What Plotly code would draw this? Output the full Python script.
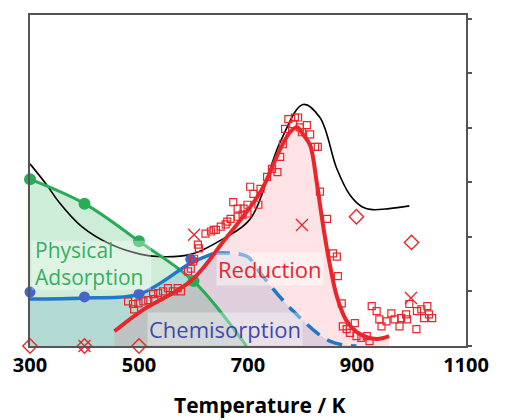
import plotly.graph_objects as go

# ---- data ----
black_T = [300, 331, 353, 395, 449, 504, 535, 595, 655, 704, 759, 801, 832, 863, 887, 910, 928, 959, 996]
black_y = [3.34, 2.95, 2.64, 2.19, 1.86, 1.68, 1.64, 1.68, 1.97, 2.33, 3.74, 4.43, 4.19, 3.25, 2.77, 2.55, 2.50, 2.52, 2.57]

phys_T = [300, 400, 500, 600, 697]
phys_y = [3.06, 2.61, 1.92, 1.19, 0.0]
phys_mk_T = [300, 400, 500, 600]
phys_mk_y = [3.06, 2.61, 1.92, 1.19]

chem_T = [300, 400, 500, 595, 637]
chem_y = [0.86, 0.88, 0.95, 1.52, 1.70]
chem_dash_T = [637, 668, 699, 723, 783, 850, 899]
chem_dash_y = [1.70, 1.70, 1.64, 1.33, 0.64, 0.09, 0.0]
chem_mk_T = [300, 400, 500, 595]
chem_mk_y = [0.99, 0.90, 0.95, 1.59]

red_T = [455, 504, 595, 655, 723, 759, 777, 790, 801, 814, 826, 834, 841, 850, 863, 881, 905, 936, 959]
red_y = [0.27, 0.64, 1.19, 1.92, 2.83, 3.61, 3.92, 4.01, 3.88, 3.68, 3.01, 2.46, 2.01, 1.50, 0.91, 0.46, 0.22, 0.13, 0.18]

sq_T = [480, 489, 491, 499, 508, 517, 526, 528, 535, 544, 553, 562, 571, 577,
        590, 595, 599, 601, 610, 608, 622, 632, 641, 650, 659, 662, 668, 681, 690, 699,
        637, 673, 681, 692, 699, 704, 710, 719, 723, 735, 744, 754, 759, 764, 768, 774,
        783, 786, 792, 795, 799, 808, 814, 823, 828, 832, 845,
        856, 863, 865, 872, 874, 881, 887, 896, 899, 908, 918, 923,
        927, 936, 941, 945, 954, 963, 969, 978, 981, 990, 992, 996, 1009, 1010, 1018, 1023, 1029, 1032, 1038]
sq_y = [0.82, 0.77, 0.67, 0.78, 0.82, 0.84, 0.95, 0.86, 0.97, 1.00, 1.06, 1.00, 1.06, 1.00,
        1.37, 1.42, 1.55, 1.60, 1.79, 1.86, 2.06, 2.10, 2.13, 2.19, 2.23, 2.28, 2.33, 2.37, 2.41, 2.43,
        2.13, 2.64, 2.52, 2.52, 2.59, 2.92, 2.79, 2.59, 2.88, 3.10, 3.25, 3.19, 3.47, 3.70, 3.98, 4.16,
        4.07, 4.19, 4.19, 4.01, 3.92, 4.05, 3.88, 3.65, 3.65, 2.83, 2.33,
        1.70, 1.64, 1.28, 0.78, 0.36, 0.31, 0.24, 0.42, 0.18, 0.15, 0.18, 0.09,
        0.73, 0.64, 0.49, 0.36, 0.45, 0.60, 0.49, 0.36, 0.51, 0.58, 0.49, 0.77, 0.31, 0.64, 0.67, 0.51, 0.73, 0.58, 0.51]

x_T = [601, 799, 999, 400]
x_y = [2.04, 2.22, 0.88, 0.0]

dia_T = [300, 400, 500, 899, 1000]
dia_y = [0.0, 0.0, 0.0, 2.37, 1.90]

x_ticks = [300, 500, 700, 900, 1100]
y_ticks = [0, 1, 2, 3, 4, 5, 6]

RED = "#e8262b"
GREEN = "#27ad55"
BLUE = "#1f78c8"
BLUE_MK = "#4466c8"

fig = go.Figure()

# fills
fig.add_trace(go.Scatter(x=phys_T, y=phys_y, mode="lines", line=dict(width=0, shape="spline"),
                         fill="tozeroy", fillcolor="rgba(31,173,79,0.22)", hoverinfo="skip"))
fig.add_trace(go.Scatter(x=chem_T + chem_dash_T[1:], y=chem_y + chem_dash_y[1:], mode="lines",
                         line=dict(width=0, shape="spline"),
                         fill="tozeroy", fillcolor="rgba(60,130,200,0.18)", hoverinfo="skip"))
fig.add_trace(go.Scatter(x=red_T, y=red_y, mode="lines", line=dict(width=0, shape="spline"),
                         fill="tozeroy", fillcolor="rgba(240,80,100,0.16)", hoverinfo="skip"))

# black curve
fig.add_trace(go.Scatter(x=black_T, y=black_y, mode="lines",
                         line=dict(color="black", width=1.6, shape="spline")))

# green
fig.add_trace(go.Scatter(x=phys_T, y=phys_y, mode="lines",
                         line=dict(color=GREEN, width=3, shape="spline")))
fig.add_trace(go.Scatter(x=phys_mk_T, y=phys_mk_y, mode="markers",
                         marker=dict(color=GREEN, size=12), cliponaxis=False))

# blue
fig.add_trace(go.Scatter(x=chem_T, y=chem_y, mode="lines",
                         line=dict(color=BLUE, width=3.5, shape="spline")))
fig.add_trace(go.Scatter(x=chem_dash_T, y=chem_dash_y, mode="lines",
                         line=dict(color=BLUE, width=3.5, shape="spline", dash="16px,9px")))
fig.add_trace(go.Scatter(x=chem_mk_T, y=chem_mk_y, mode="markers",
                         marker=dict(color=BLUE_MK, size=11), cliponaxis=False))

# red squares
fig.add_trace(go.Scatter(x=sq_T, y=sq_y, mode="markers",
                         marker=dict(symbol="square-open", color=RED, size=7, line=dict(width=1.2))))
# red line
fig.add_trace(go.Scatter(x=red_T, y=red_y, mode="lines",
                         line=dict(color=RED, width=4, shape="spline")))
# crosses & diamonds
fig.add_trace(go.Scatter(x=x_T, y=x_y, mode="markers", cliponaxis=False,
                         marker=dict(symbol="x-thin-open", color=RED, size=12, line=dict(width=1.3, color=RED))))
fig.add_trace(go.Scatter(x=dia_T, y=dia_y, mode="markers", cliponaxis=False,
                         marker=dict(symbol="diamond-open", color=RED, size=11, line=dict(width=1.4))))

FONT = "Open Sans"

# label boxes
fig.add_shape(type="rect", x0=303, x1=522, y0=1.03, y1=1.93, xref="x", yref="y",
              fillcolor="rgba(255,255,255,0.35)", line=dict(width=0), layer="above")
fig.add_annotation(x=305, y=1.51, text="Physical<br>Adsorption", showarrow=False,
                   xanchor="left", yanchor="middle", align="left",
                   font=dict(family=FONT, size=21, color="#35b060"))
fig.add_annotation(x=741, y=1.42, text="Reduction", showarrow=False, xanchor="center", yanchor="middle",
                   bgcolor="rgba(255,255,255,0.45)", borderpad=1,
                   font=dict(family=FONT, size=22, color=RED))
fig.add_annotation(x=657, y=0.31, text="Chemisorption", showarrow=False, xanchor="center", yanchor="middle",
                   bgcolor="rgba(255,255,255,0.35)", borderpad=1,
                   font=dict(family=FONT, size=22, color="#3f48b0"))
# x-axis title
fig.add_annotation(x=0.527, y=-0.178, xref="paper", yref="paper", text="<b>Temperature / K</b>",
                   showarrow=False, xanchor="center", yanchor="middle",
                   font=dict(family=FONT, size=21, color="black"))

fig.update_layout(
    width=506, height=420,
    margin=dict(l=20, r=48, t=5, b=82),
    paper_bgcolor="white", plot_bgcolor="white",
    showlegend=False,
    xaxis=dict(range=[300, 1100], tickvals=x_ticks, ticktext=[str(v) for v in x_ticks],
               showgrid=False, zeroline=False, showline=True, linecolor="#555", linewidth=1.5,
               mirror=True, ticks="",
               tickfont=dict(family=FONT, size=20, color="black", weight="bold")),
    yaxis=dict(range=[0, 6.07], tickvals=y_ticks, side="right", showticklabels=False,
               showgrid=False, zeroline=False, showline=True, linecolor="#555", linewidth=1.5,
               mirror=True, ticks="outside", ticklen=4, tickwidth=1.5, tickcolor="#555"),
)

fig.write_html("out.html")
